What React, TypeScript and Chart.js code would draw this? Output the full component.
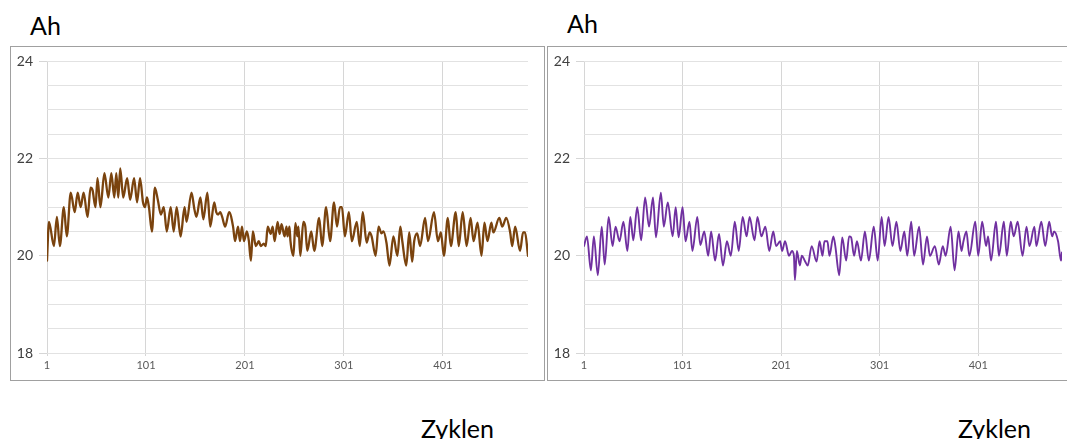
import React, { useEffect, useRef } from "react";
import { Chart, registerables } from "chart.js";

Chart.register(...registerables);

const CYCLE_TICKS = [1, 101, 201, 301, 401];
const Y_LABELS = [18, 20, 22, 24];

const LEFT_CYCLES = [
  1, 3, 8, 11, 14, 18, 21, 25, 29, 32, 35, 38, 42, 45, 47, 50, 52, 55, 59, 63,
  66, 69, 71, 73, 75, 78, 82, 85, 89, 92, 95, 98, 100, 102, 104, 107, 110, 113, 116, 119,
  122, 126, 129, 132, 136, 140, 142, 147, 150, 152, 156, 159, 163, 166, 170, 172, 174, 176, 178, 181,
  185, 189, 191, 194, 196, 198, 200, 203, 205, 207, 209, 212, 215, 217, 220, 222, 224, 227, 229, 231,
  234, 236, 238, 241, 243, 244, 246, 247, 250, 252, 254, 255, 257, 260, 262, 264, 268, 271, 276, 279,
  283, 287, 291, 294, 297, 299, 302, 306, 309, 314, 317, 320, 324, 327, 329, 333, 336, 339, 341, 344,
  347, 351, 355, 358, 360, 364, 367, 370, 372, 375, 378, 383, 386, 392, 396, 399, 402, 406, 409, 414,
  417, 421, 425, 429, 432, 436, 440, 443, 446, 450, 452, 458, 461, 465, 469, 471, 474, 479, 482, 484,
  487,
];
const LEFT_AH = [
  19.9, 20.7, 20.2, 20.8, 20.2, 21.0, 20.4, 21.3, 20.9, 21.3, 21.0, 21.3, 20.8, 21.4, 21.35, 21.0, 21.6, 21.0, 21.7, 21.2,
  21.7, 21.2, 21.7, 21.2, 21.8, 21.2, 21.6, 21.15, 21.6, 21.1, 21.6, 21.1, 21.0, 21.2, 21.0, 20.5, 21.4, 21.15, 20.85, 21.0,
  20.5, 21.0, 20.5, 21.0, 20.4, 21.0, 20.7, 21.3, 20.95, 20.8, 21.2, 20.75, 21.3, 20.6, 21.1, 20.9, 20.85, 20.9, 20.8, 20.6,
  20.9, 20.6, 20.3, 20.6, 20.3, 20.6, 20.3, 20.5, 20.3, 19.9, 20.5, 20.2, 20.3, 20.2, 20.25, 20.2, 20.6, 20.45, 20.6, 20.3,
  20.7, 20.45, 20.65, 20.4, 20.6, 20.4, 20.6, 20.3, 20.0, 20.67, 20.4, 20.6, 20.0, 20.7, 20.6, 20.1, 20.5, 20.1, 20.78, 20.2,
  21.0, 20.3, 21.1, 20.6, 21.0, 21.0, 20.4, 20.9, 20.3, 20.7, 20.2, 20.9, 20.27, 20.48, 20.4, 20.0, 20.6, 20.46, 20.5, 20.27,
  19.8, 20.4, 20.0, 20.6, 20.3, 19.8, 20.48, 19.88, 20.3, 20.46, 20.2, 20.78, 20.3, 20.9, 20.3, 20.48, 20.0, 20.78, 20.2, 20.9,
  20.2, 20.9, 20.2, 20.78, 20.3, 20.68, 20.0, 20.68, 20.3, 20.68, 20.48, 20.78, 20.6, 20.78, 20.48, 20.2, 20.6, 20.1, 20.48, 20.48,
  20.0,
];

const RIGHT_CYCLES = [
  1, 4, 8, 11, 15, 19, 22, 26, 30, 33, 37, 41, 45, 48, 51, 55, 59, 63, 67, 71,
  74, 79, 82, 86, 91, 94, 97, 101, 104, 108, 111, 116, 119, 123, 127, 130, 134, 138, 142, 146,
  150, 154, 158, 162, 166, 169, 174, 177, 181, 185, 189, 193, 196, 200, 202, 205, 209, 212, 214, 215,
  217, 220, 222, 225, 228, 232, 237, 240, 243, 245, 248, 250, 254, 256, 260, 263, 267, 270, 272, 275,
  278, 282, 286, 290, 295, 299, 303, 306, 310, 314, 318, 322, 326, 329, 333, 336, 341, 345, 349, 352,
  357, 361, 365, 368, 373, 377, 381, 384, 386, 389, 392, 398, 401, 405, 409, 411, 414, 419, 422, 427,
  430, 434, 437, 441, 446, 450, 453, 458, 460, 465, 469, 473, 476, 478, 482, 485, 486,
];
const RIGHT_AH = [
  20.2, 20.4, 19.7, 20.4, 19.6, 20.6, 19.82, 20.8, 20.2, 20.6, 20.3, 20.7, 20.1, 20.8, 20.32, 21.0, 20.32, 21.2, 20.6, 21.2,
  20.38, 21.3, 20.6, 21.1, 20.4, 21.0, 20.38, 21.0, 20.3, 20.7, 20.1, 20.8, 20.22, 20.5, 20.0, 20.5, 19.9, 20.45, 19.8, 20.3,
  20.0, 20.7, 20.1, 20.8, 20.4, 20.8, 20.32, 20.8, 20.4, 20.6, 20.1, 20.5, 20.2, 20.3, 20.1, 20.3, 20.0, 20.1, 20.0, 19.5,
  20.1, 19.8, 20.0, 19.9, 19.8, 20.2, 19.88, 20.3, 20.0, 20.3, 20.3, 20.0, 20.4, 20.2, 19.6, 20.38, 19.9, 20.4, 20.38, 20.0,
  20.3, 19.9, 20.5, 19.9, 20.6, 19.9, 20.8, 20.2, 20.8, 20.2, 20.7, 20.1, 20.5, 20.0, 20.7, 20.0, 20.6, 19.82, 20.4, 20.0,
  20.2, 19.82, 20.2, 20.0, 20.6, 19.7, 20.5, 20.1, 20.3, 20.5, 20.0, 20.7, 20.0, 20.7, 20.2, 20.4, 19.9, 20.7, 20.0, 20.7,
  20.0, 20.7, 20.4, 20.7, 20.0, 20.6, 20.2, 20.6, 20.2, 20.7, 20.2, 20.7, 20.4, 20.5, 20.3, 19.9, 20.07,
];

const FONT = "Lato, 'Open Sans', 'Liberation Sans', sans-serif";

type PanelProps = {
  left: number;
  width: number;
  cycles: number[];
  values: number[];
  color: string;
  lineWidth: number;
  xMax: number;
  padRight: number;
  showRightBorder: boolean;
};

function Panel(props: PanelProps) {
  const ref = useRef<HTMLCanvasElement | null>(null);
  const { left, width, cycles, values, color, lineWidth, xMax, padRight, showRightBorder } = props;
  const height = 333;

  useEffect(() => {
    if (!ref.current) return;
    const chart = new Chart(ref.current, {
      type: "line",
      data: {
        datasets: [
          {
            data: cycles.map((c, i) => ({ x: c, y: values[i] })),
            borderColor: color,
            borderWidth: lineWidth,
            pointRadius: 0,
            cubicInterpolationMode: "monotone",
            borderJoinStyle: "round",
            borderCapStyle: "round",
            fill: false,
          },
        ],
      },
      options: {
        animation: false,
        responsive: false,
        maintainAspectRatio: false,
        layout: { padding: { top: 12, right: padRight, left: 0, bottom: 0 } },
        plugins: { legend: { display: false }, tooltip: { enabled: false } },
        scales: {
          x: {
            type: "linear",
            min: 1,
            max: xMax,
            afterBuildTicks: (s: any) => {
              s.ticks = CYCLE_TICKS.map((v) => ({ value: v }));
            },
            afterFit: (s: any) => {
              s.height = 27;
            },
            grid: { color: "#d6d6d6", tickLength: 3, drawTicks: true },
            border: { display: false },
            ticks: {
              autoSkip: false,
              maxRotation: 0,
              padding: 3,
              color: "#595959",
              font: { family: FONT, size: 11 },
              callback: (v: any) => String(v),
            },
          },
          y: {
            min: 18,
            max: 24,
            afterFit: (s: any) => {
              s.width = 36;
            },
            grid: {
              color: "#e2e2e2",
              tickLength: 8,
              tickColor: (ctx: any) =>
                ctx.tick && Y_LABELS.includes(ctx.tick.value) ? "#d6d6d6" : "rgba(0,0,0,0)",
            },
            border: { display: false },
            ticks: {
              stepSize: 0.5,
              autoSkip: false,
              padding: 6,
              color: "#404040",
              font: { family: FONT, size: 14 },
              callback: (v: any) => (Y_LABELS.includes(Number(v)) ? String(v) : ""),
            },
          },
        },
      },
    });
    return () => chart.destroy();
  }, []);

  return (
    <div
      style={{
        position: "absolute",
        left,
        top: 46,
        width,
        height,
        borderTop: "1px solid #a0a0a0",
        borderBottom: "1px solid #a0a0a0",
        borderLeft: "1px solid #a0a0a0",
        borderRight: showRightBorder ? "1px solid #a0a0a0" : "none",
        background: "#fff",
      }}
    >
      <canvas ref={ref} width={width} height={height} style={{ display: "block", width, height }} />
    </div>
  );
}

const labelStyle: React.CSSProperties = {
  position: "absolute",
  fontFamily: FONT,
  fontSize: 25,
  lineHeight: "25px",
  color: "#000",
  whiteSpace: "nowrap",
};

export default function App() {
  return (
    <div
      style={{
        position: "absolute",
        left: 0,
        top: 0,
        width: 1067,
        height: 439,
        overflow: "hidden",
        background: "#fff",
      }}
    >
      <div style={{ ...labelStyle, left: 30, top: 13 }}>Ah</div>
      <div style={{ ...labelStyle, left: 567, top: 11 }}>Ah</div>
      <Panel
        left={10}
        width={533}
        cycles={LEFT_CYCLES}
        values={LEFT_AH}
        color="#7A430E"
        lineWidth={2.3}
        xMax={487}
        padRight={16}
        showRightBorder={true}
      />
      <Panel
        left={547}
        width={520}
        cycles={RIGHT_CYCLES}
        values={RIGHT_AH}
        color="#7030A0"
        lineWidth={1.9}
        xMax={486}
        padRight={6}
        showRightBorder={false}
      />
      <div style={{ ...labelStyle, left: 421, top: 416 }}>Zyklen</div>
      <div style={{ ...labelStyle, left: 958, top: 416 }}>Zyklen</div>
    </div>
  );
}
